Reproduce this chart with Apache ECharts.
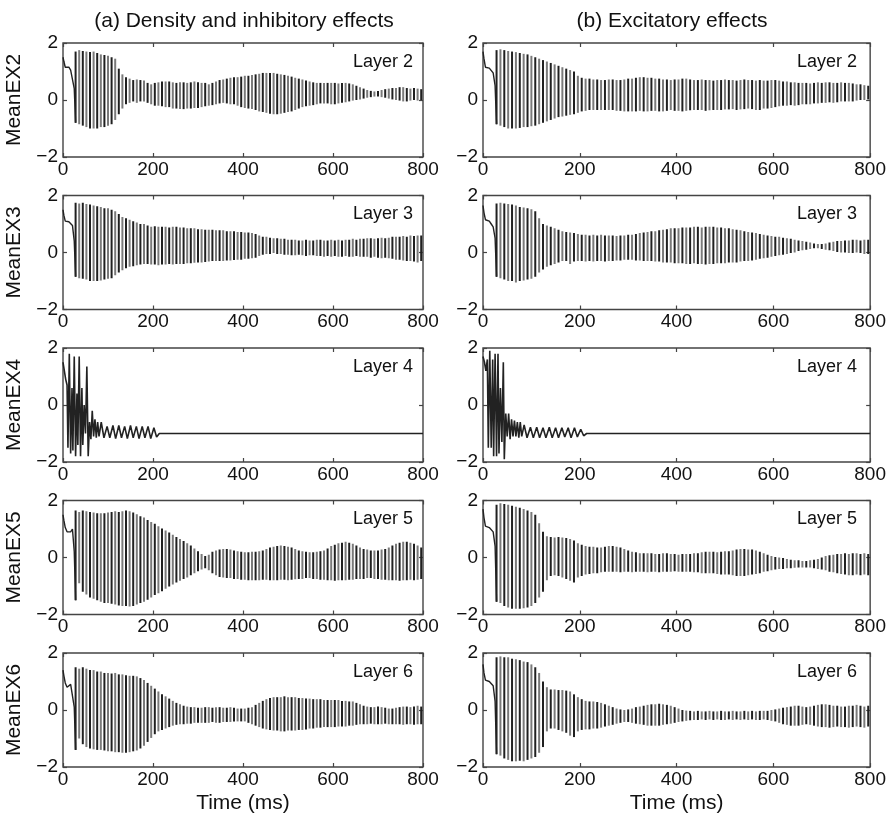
<!DOCTYPE html>
<html>
<head>
<meta charset="utf-8">
<script src="https://cdn.jsdelivr.net/npm/echarts@6/dist/echarts.min.js"></script>
<style>
html, body { margin: 0; padding: 0; background: #fff; }
#chart { width: 889px; height: 823px; }
</style>
</head>
<body>
<div id="chart"></div>
<script>
// ---- time base ----
const xTicks = [0, 200, 400, 600, 800];
const yTicks = [-2, 0, 2];
const cycleStart = 28;   // first oscillation cycle (ms)
const cycleStep = 8;     // one cycle every 8 ms

// opening transient before the oscillation starts
const headTimes = [0, 2, 5, 9, 13, 17, 21, 25];
const l2aHead = [1.5, 1.35, 1.15, 1.1, 1.15, 1.05, 1.0, 0.4];
const l2bHead = [1.7, 1.45, 1.15, 1.1, 1.12, 1.05, 0.95, 0.5];
const l3aHead = [1.5, 1.3, 1.1, 1.05, 1.08, 1.05, 0.95, 0.4];
const l3bHead = [1.65, 1.4, 1.15, 1.08, 1.1, 1.0, 0.9, 0.5];
const l5aHead = [1.5, 1.3, 1.05, 0.9, 0.95, 0.9, 1.0, 0.2];
const l5bHead = [1.7, 1.4, 1.1, 1.05, 1.05, 1.0, 0.9, 0.4];
const l6aHead = [1.4, 1.2, 0.95, 0.8, 0.85, 0.9, 0.9, 0.1];
const l6bHead = [1.6, 1.3, 1.05, 1.0, 1.0, 0.95, 0.85, 0.3];

// per-cycle peaks (Hi) and troughs (Lo)
const l2aHi = [1.7,1.75,1.72,1.7,1.68,1.7,1.65,1.6,1.58,1.55, 1.5,1.45,1.1,0.9,0.8,0.75,0.7,0.72,0.7,0.68, 0.6,0.55,0.6,0.62,0.65,0.65,0.65,0.62,0.6,0.62, 0.62,0.6,0.62,0.65,0.62,0.6,0.6,0.55,0.6,0.65, 0.7,0.72,0.75,0.78,0.8,0.8,0.82,0.85,0.85,0.88, 0.9,0.92,0.95,0.95,0.95,0.95,0.92,0.9,0.88,0.85, 0.82,0.78,0.75,0.72,0.68,0.65,0.62,0.6,0.6,0.6, 0.6,0.6,0.6,0.58,0.6,0.6,0.58,0.55,0.5,0.45, 0.4,0.35,0.32,0.3,0.32,0.35,0.38,0.4,0.42,0.42, 0.45,0.45,0.42,0.4,0.42,0.4,0.38];
const l2aLo = [-0.8,-0.85,-0.9,-0.95,-1.0,-1.0,-1.0,-0.95,-0.95,-0.9, -0.85,-0.7,-0.5,-0.3,-0.15,-0.1,-0.05,-0.1,-0.05,-0.05, -0.1,-0.15,-0.2,-0.2,-0.22,-0.25,-0.25,-0.3,-0.3,-0.32, -0.32,-0.3,-0.3,-0.28,-0.28,-0.25,-0.22,-0.2,-0.18,-0.15, -0.12,-0.1,-0.12,-0.15,-0.15,-0.2,-0.25,-0.28,-0.3,-0.32, -0.35,-0.4,-0.42,-0.45,-0.48,-0.5,-0.5,-0.48,-0.45,-0.42, -0.4,-0.35,-0.3,-0.25,-0.22,-0.2,-0.18,-0.15,-0.12,-0.12, -0.12,-0.15,-0.15,-0.12,-0.1,-0.08,-0.05,-0.02,0.0,0.02, 0.05,0.08,0.1,0.12,0.12,0.1,0.08,0.05,0.02,0.0, -0.02,-0.05,-0.05,-0.02,0.0,-0.02,0.0];

const l2bHi = [1.75,1.78,1.75,1.72,1.7,1.68,1.65,1.62,1.6,1.55, 1.5,1.45,1.4,1.35,1.3,1.25,1.2,1.15,1.1,1.05, 1.0,0.85,0.78,0.75,0.75,0.72,0.72,0.7,0.7,0.72, 0.72,0.7,0.7,0.72,0.75,0.75,0.78,0.8,0.8,0.78, 0.78,0.75,0.75,0.72,0.72,0.7,0.72,0.72,0.75,0.75, 0.72,0.7,0.7,0.72,0.7,0.7,0.68,0.7,0.7,0.72, 0.7,0.7,0.68,0.7,0.72,0.7,0.7,0.68,0.7,0.68, 0.68,0.7,0.7,0.68,0.65,0.65,0.62,0.62,0.6,0.6, 0.6,0.58,0.6,0.62,0.6,0.62,0.62,0.6,0.6,0.62, 0.6,0.6,0.58,0.55,0.55,0.52,0.5];
const l2bLo = [-0.85,-0.9,-0.95,-1.0,-1.0,-1.0,-0.98,-0.95,-0.95,-0.92, -0.9,-0.85,-0.8,-0.75,-0.7,-0.65,-0.6,-0.58,-0.55,-0.52, -0.5,-0.45,-0.4,-0.38,-0.35,-0.35,-0.35,-0.35,-0.35,-0.35, -0.35,-0.38,-0.38,-0.4,-0.4,-0.4,-0.4,-0.38,-0.4,-0.4, -0.38,-0.38,-0.4,-0.4,-0.38,-0.35,-0.38,-0.38,-0.4,-0.38, -0.36,-0.35,-0.35,-0.35,-0.38,-0.36,-0.35,-0.35,-0.35,-0.33, -0.33,-0.32,-0.35,-0.33,-0.32,-0.3,-0.32,-0.35,-0.35,-0.3, -0.3,-0.28,-0.25,-0.22,-0.2,-0.2,-0.18,-0.2,-0.18,-0.15, -0.15,-0.15,-0.12,-0.12,-0.1,-0.1,-0.08,-0.1,-0.08,-0.05, -0.05,-0.05,-0.05,-0.02,0.0,0.0,0.02];

const l3aHi = [1.75,1.72,1.75,1.7,1.68,1.65,1.62,1.6,1.55,1.55, 1.5,1.45,1.35,1.25,1.2,1.15,1.1,1.05,1.0,1.0, 0.95,0.9,0.92,0.9,0.9,0.9,0.88,0.9,0.9,0.88, 0.88,0.85,0.85,0.85,0.82,0.82,0.8,0.8,0.8,0.78, 0.78,0.78,0.75,0.75,0.75,0.72,0.72,0.7,0.7,0.68, 0.65,0.6,0.55,0.55,0.52,0.5,0.5,0.48,0.48,0.45, 0.45,0.45,0.42,0.42,0.45,0.42,0.42,0.45,0.45,0.42, 0.42,0.45,0.42,0.45,0.42,0.45,0.45,0.48,0.45,0.48, 0.48,0.5,0.5,0.48,0.5,0.52,0.5,0.52,0.55,0.55, 0.55,0.58,0.55,0.6,0.58,0.6,0.6];
const l3aLo = [-0.85,-0.9,-0.92,-0.95,-1.0,-1.0,-1.0,-0.98,-0.95,-0.92, -0.9,-0.8,-0.7,-0.62,-0.55,-0.5,-0.48,-0.45,-0.42,-0.4, -0.4,-0.42,-0.42,-0.45,-0.42,-0.42,-0.4,-0.42,-0.4,-0.4, -0.4,-0.38,-0.38,-0.36,-0.35,-0.35,-0.33,-0.32,-0.3,-0.3, -0.3,-0.3,-0.28,-0.28,-0.26,-0.25,-0.25,-0.22,-0.22,-0.2, -0.18,-0.12,-0.08,-0.05,-0.05,-0.02,-0.05,-0.05,-0.08,-0.08, -0.1,-0.1,-0.08,-0.1,-0.12,-0.1,-0.1,-0.12,-0.12,-0.15, -0.12,-0.15,-0.12,-0.15,-0.15,-0.12,-0.15,-0.15,-0.12,-0.15, -0.15,-0.15,-0.18,-0.15,-0.18,-0.2,-0.18,-0.2,-0.22,-0.25, -0.25,-0.28,-0.3,-0.3,-0.32,-0.35,-0.3];

const l3bHi = [1.72,1.75,1.72,1.7,1.68,1.65,1.6,1.58,1.55,1.52, 1.45,1.2,1.0,0.95,0.9,0.85,0.8,0.75,0.72,0.7, 0.68,0.65,0.62,0.62,0.6,0.62,0.6,0.62,0.6,0.6, 0.6,0.58,0.6,0.6,0.62,0.62,0.65,0.68,0.7,0.72, 0.75,0.75,0.78,0.8,0.82,0.85,0.85,0.85,0.88,0.88, 0.88,0.9,0.9,0.88,0.9,0.9,0.9,0.88,0.88,0.85, 0.85,0.82,0.8,0.78,0.75,0.72,0.7,0.68,0.65,0.62, 0.6,0.58,0.55,0.55,0.52,0.5,0.48,0.45,0.42,0.4, 0.38,0.35,0.32,0.3,0.3,0.32,0.35,0.38,0.4,0.4, 0.42,0.42,0.45,0.45,0.42,0.45,0.45];
const l3bLo = [-0.85,-0.9,-0.95,-1.0,-1.0,-1.05,-1.0,-0.98,-0.95,-0.92, -0.85,-0.7,-0.6,-0.5,-0.45,-0.4,-0.35,-0.3,-0.3,-0.4, -0.32,-0.3,-0.3,-0.32,-0.3,-0.32,-0.3,-0.3,-0.32,-0.3, -0.3,-0.28,-0.28,-0.25,-0.25,-0.25,-0.28,-0.28,-0.3,-0.3, -0.3,-0.32,-0.32,-0.35,-0.35,-0.35,-0.38,-0.38,-0.38,-0.4, -0.4,-0.38,-0.4,-0.4,-0.42,-0.4,-0.4,-0.38,-0.38,-0.38, -0.35,-0.35,-0.35,-0.32,-0.3,-0.3,-0.28,-0.25,-0.22,-0.2, -0.18,-0.15,-0.12,-0.1,-0.08,-0.05,-0.02,0.0,0.05,0.08, 0.1,0.12,0.15,0.15,0.12,0.1,0.08,0.05,0.02,0.0, 0.0,-0.02,-0.02,0.0,-0.02,-0.05,-0.05];

const l5aHi = [1.65,1.6,1.65,1.62,1.6,1.58,1.55,1.55,1.55,1.58, 1.6,1.62,1.6,1.62,1.65,1.62,1.58,1.52,1.45,1.4, 1.32,1.25,1.18,1.1,1.02,0.95,0.88,0.8,0.72,0.65, 0.58,0.5,0.42,0.32,0.22,0.12,0.05,0.1,0.2,0.25, 0.28,0.3,0.3,0.28,0.25,0.22,0.2,0.18,0.18,0.2, 0.2,0.22,0.25,0.3,0.35,0.38,0.4,0.42,0.4,0.38, 0.35,0.3,0.25,0.22,0.2,0.18,0.18,0.2,0.22,0.25, 0.32,0.4,0.45,0.5,0.52,0.55,0.52,0.48,0.42,0.35, 0.3,0.28,0.25,0.25,0.25,0.28,0.3,0.35,0.42,0.48, 0.52,0.55,0.55,0.52,0.48,0.42,0.35];
const l5aLo = [-1.5,-0.9,-1.2,-1.3,-1.4,-1.45,-1.5,-1.55,-1.6,-1.6, -1.62,-1.65,-1.68,-1.7,-1.7,-1.72,-1.7,-1.65,-1.6,-1.55, -1.48,-1.4,-1.32,-1.25,-1.18,-1.1,-1.02,-0.95,-0.88,-0.82, -0.75,-0.7,-0.62,-0.55,-0.48,-0.42,-0.38,-0.45,-0.55,-0.62, -0.68,-0.7,-0.72,-0.72,-0.75,-0.75,-0.78,-0.78,-0.8,-0.8, -0.8,-0.8,-0.78,-0.78,-0.8,-0.8,-0.8,-0.78,-0.78,-0.8, -0.78,-0.76,-0.75,-0.75,-0.72,-0.72,-0.75,-0.75,-0.78,-0.78, -0.8,-0.8,-0.82,-0.8,-0.8,-0.8,-0.78,-0.78,-0.75,-0.75, -0.75,-0.72,-0.72,-0.75,-0.75,-0.78,-0.78,-0.8,-0.8,-0.8, -0.82,-0.8,-0.8,-0.78,-0.8,-0.78,-0.75];

const l5bHi = [1.85,1.9,1.88,1.85,1.82,1.78,1.75,1.7,1.65,1.6, 1.5,1.2,0.9,0.75,0.72,0.7,0.72,0.7,0.68,0.65, 0.6,0.5,0.45,0.4,0.38,0.38,0.35,0.35,0.38,0.4, 0.4,0.38,0.35,0.3,0.25,0.2,0.18,0.15,0.15,0.15, 0.15,0.12,0.12,0.15,0.15,0.12,0.12,0.1,0.12,0.12, 0.12,0.15,0.15,0.18,0.2,0.2,0.2,0.18,0.2,0.22, 0.22,0.25,0.28,0.3,0.3,0.28,0.28,0.25,0.2,0.15, 0.1,0.05,0.02,0.0,-0.02,-0.05,-0.08,-0.1,-0.1,-0.12, -0.12,-0.1,-0.08,-0.05,0.0,0.05,0.08,0.1,0.12,0.12, 0.15,0.12,0.15,0.15,0.12,0.15,0.12];
const l5bLo = [-1.55,-1.6,-1.7,-1.75,-1.8,-1.8,-1.8,-1.78,-1.75,-1.7, -1.6,-1.4,-1.2,-0.8,-0.65,-0.62,-0.65,-0.7,-0.75,-0.82, -0.88,-0.7,-0.65,-0.6,-0.58,-0.55,-0.55,-0.52,-0.5,-0.5, -0.5,-0.5,-0.52,-0.5,-0.5,-0.52,-0.5,-0.5,-0.5,-0.52, -0.5,-0.5,-0.52,-0.5,-0.5,-0.5,-0.48,-0.5,-0.5,-0.5, -0.5,-0.52,-0.52,-0.55,-0.55,-0.55,-0.55,-0.58,-0.6,-0.6, -0.6,-0.62,-0.65,-0.65,-0.65,-0.62,-0.6,-0.58,-0.55,-0.5, -0.48,-0.45,-0.42,-0.4,-0.4,-0.38,-0.38,-0.36,-0.35,-0.35, -0.35,-0.35,-0.38,-0.4,-0.42,-0.45,-0.5,-0.52,-0.55,-0.58, -0.6,-0.62,-0.62,-0.6,-0.62,-0.6,-0.62];

const l6aHi = [1.5,1.45,1.5,1.45,1.4,1.4,1.35,1.35,1.3,1.3, 1.28,1.3,1.25,1.25,1.22,1.2,1.2,1.18,1.12,1.05, 0.95,0.85,0.75,0.65,0.55,0.48,0.4,0.32,0.25,0.2, 0.15,0.12,0.1,0.1,0.08,0.08,0.1,0.1,0.08,0.1, 0.1,0.08,0.08,0.1,0.08,0.05,0.05,0.05,0.08,0.1, 0.18,0.25,0.32,0.38,0.42,0.45,0.45,0.45,0.48,0.45, 0.45,0.45,0.42,0.42,0.4,0.4,0.38,0.38,0.38,0.35, 0.35,0.35,0.35,0.35,0.32,0.32,0.3,0.3,0.25,0.2, 0.15,0.12,0.1,0.1,0.12,0.1,0.08,0.05,0.05,0.08, 0.1,0.12,0.12,0.1,0.12,0.15,0.12];
const l6aLo = [-1.4,-1.0,-1.2,-1.3,-1.35,-1.38,-1.4,-1.4,-1.42,-1.45, -1.45,-1.48,-1.48,-1.5,-1.5,-1.48,-1.45,-1.42,-1.35,-1.25, -1.12,-0.98,-0.85,-0.75,-0.7,-0.65,-0.6,-0.55,-0.52,-0.5, -0.5,-0.48,-0.48,-0.45,-0.45,-0.45,-0.45,-0.45,-0.42,-0.45, -0.45,-0.42,-0.42,-0.42,-0.4,-0.4,-0.4,-0.4,-0.45,-0.5, -0.55,-0.6,-0.65,-0.68,-0.7,-0.72,-0.72,-0.75,-0.75,-0.72, -0.72,-0.72,-0.7,-0.7,-0.68,-0.65,-0.65,-0.62,-0.62,-0.6, -0.6,-0.6,-0.6,-0.58,-0.58,-0.58,-0.55,-0.55,-0.52,-0.5, -0.5,-0.5,-0.48,-0.5,-0.5,-0.5,-0.48,-0.5,-0.5,-0.5, -0.5,-0.52,-0.5,-0.5,-0.52,-0.5,-0.5];

const l6bHi = [1.85,1.88,1.85,1.85,1.8,1.78,1.75,1.7,1.68,1.6, 1.5,1.3,1.0,0.8,0.72,0.72,0.7,0.7,0.68,0.65, 0.55,0.45,0.38,0.32,0.3,0.3,0.28,0.25,0.2,0.15, 0.1,0.05,0.02,0.0,0.02,0.05,0.1,0.12,0.15,0.18, 0.2,0.2,0.22,0.2,0.18,0.15,0.1,0.05,0.0,-0.02, -0.03,-0.05,-0.03,-0.05,-0.05,-0.03,-0.05,-0.05,-0.03,-0.05, -0.05,-0.03,-0.05,-0.05,-0.03,-0.05,-0.03,-0.05,-0.03,-0.03, -0.03,0.0,0.02,0.05,0.08,0.1,0.12,0.15,0.15,0.12, 0.1,0.12,0.15,0.18,0.2,0.2,0.18,0.15,0.15,0.12, 0.12,0.15,0.15,0.18,0.15,0.12,0.15];
const l6bLo = [-1.55,-1.6,-1.7,-1.75,-1.8,-1.8,-1.78,-1.8,-1.75,-1.7, -1.65,-1.5,-1.3,-0.75,-0.65,-0.65,-0.7,-0.75,-0.8,-0.9, -0.95,-0.75,-0.7,-0.68,-0.68,-0.65,-0.65,-0.62,-0.58,-0.55, -0.52,-0.48,-0.45,-0.42,-0.42,-0.45,-0.48,-0.5,-0.52,-0.55, -0.55,-0.55,-0.55,-0.52,-0.5,-0.48,-0.45,-0.42,-0.4,-0.38, -0.36,-0.35,-0.35,-0.33,-0.35,-0.33,-0.35,-0.33,-0.35,-0.35, -0.33,-0.35,-0.33,-0.35,-0.33,-0.35,-0.33,-0.35,-0.35,-0.33, -0.35,-0.38,-0.4,-0.45,-0.5,-0.52,-0.55,-0.55,-0.55,-0.52, -0.5,-0.52,-0.55,-0.58,-0.6,-0.6,-0.62,-0.6,-0.58,-0.6, -0.6,-0.62,-0.6,-0.58,-0.6,-0.62,-0.58];

// Layer 4 settles onto a constant level, traced point by point
const l4Times = [0,3,6,9,11,14,17,20,22,25, 28,31,33,36,39,42,44,47,50,53, 56,59,62,65,68,71,74,77,80,85, 91,98,104,111,117,124,130,137,143,150, 156,163,169,176,182,189,195,202,208,214, 800];
const l4aVals = [1.5,1.2,0.9,0.7,-1.5,1.8,-1.7,0.6,-1.6,1.7, -1.8,0.4,-1.4,1.7,-1.8,0.6,-1.4,0.0,-1.0,1.35, -1.8,-0.6,-1.2,-0.2,-1.1,-0.5,-1.15,-0.6,-1.1,-0.6, -1.15,-0.75,-1.15,-0.72,-1.18,-0.72,-1.15,-0.75,-1.18,-0.72, -1.15,-0.75,-1.18,-0.75,-1.15,-0.75,-1.18,-0.8,-1.12,-1.0, -1.0];
const l4bVals = [1.7,1.5,1.2,1.6,-1.5,1.9,-1.5,1.6,-1.8,1.8, -1.8,1.8,-1.7,0.6,-1.3,1.5,-1.9,-0.3,-1.1,-0.3, -1.2,-0.5,-1.1,-0.55,-1.1,-0.6,-1.15,-0.6,-1.1,-0.7, -1.15,-0.78,-1.15,-0.78,-1.15,-0.8,-1.15,-0.78,-1.15,-0.8, -1.15,-0.8,-1.12,-0.8,-1.15,-0.8,-1.12,-0.85,-1.08,-1.0, -1.0];

const columnTitles = ['(a) Density and inhibitory effects', '(b) Excitatory effects'];
const rowNames = ['MeanEX2', 'MeanEX3', 'MeanEX4', 'MeanEX5', 'MeanEX6'];
const layerNames = ['Layer 2', 'Layer 3', 'Layer 4', 'Layer 5', 'Layer 6'];
const xName = 'Time (ms)';

// panels[row][col]
const panels = [
  [{ head: l2aHead, hi: l2aHi, lo: l2aLo }, { head: l2bHead, hi: l2bHi, lo: l2bLo }],
  [{ head: l3aHead, hi: l3aHi, lo: l3aLo }, { head: l3bHead, hi: l3bHi, lo: l3bLo }],
  [{ trace: l4aVals }, { trace: l4bVals }],
  [{ head: l5aHead, hi: l5aHi, lo: l5aLo }, { head: l5bHead, hi: l5bHi, lo: l5bLo }],
  [{ head: l6aHead, hi: l6aHi, lo: l6aLo }, { head: l6bHead, hi: l6bHi, lo: l6bLo }]
];

// ---- layout ----
const FONT = '"Liberation Sans", Arial, Helvetica, sans-serif';
const rowTop = [43, 195.5, 348, 500.5, 653];
const rowH = 114;
const colLeft = [63, 483];
const colW = [360, 388];
const FRAME = '#444';

const chart = echarts.init(document.getElementById('chart'), null, { renderer: 'canvas' });

function minusFmt(v) { return v < 0 ? '\u2212' + Math.abs(v) : String(v); }

// each oscillation cycle as a narrow stroke from trough to peak
function renderCycle(params, api) {
  const t = api.value(0);
  const top = api.coord([t, api.value(2)]);
  const bot = api.coord([t, api.value(1)]);
  const w = 2.0;
  return {
    type: 'rect',
    shape: { x: top[0] - w / 2, y: top[1], width: w, height: Math.max(1, bot[1] - top[1]) },
    style: { fill: api.value(3) ? '#7a7a7a' : '#202020' }
  };
}

const tickStyle = { inside: true, length: 4, lineStyle: { color: FRAME, width: 1.2 } };
const grid = [], xAxis = [], yAxis = [], series = [], graphic = [];
let k = 0;
for (let r = 0; r < 5; r++) {
  for (let c = 0; c < 2; c++) {
    grid.push({ left: colLeft[c], top: rowTop[r], width: colW[c], height: rowH,
      show: true, borderColor: FRAME, borderWidth: 1.4, backgroundColor: '#fff' });
    const xb = {
      type: 'value', gridIndex: k, min: 0, max: 800, interval: 200, position: 'bottom',
      axisLine: { show: false, onZero: false }, splitLine: { show: false },
      axisTick: tickStyle,
      axisLabel: { fontFamily: FONT, fontSize: 19, color: '#111', margin: 3 }
    };
    if (r === 4) {
      Object.assign(xb, { name: xName, nameLocation: 'middle', nameGap: 26,
        nameTextStyle: { fontFamily: FONT, fontSize: 21, color: '#111' } });
    }
    xAxis.push(xb);
    xAxis.push({
      type: 'value', gridIndex: k, min: 0, max: 800, interval: 200, position: 'top',
      axisLine: { show: false, onZero: false }, splitLine: { show: false }, axisLabel: { show: false },
      axisTick: tickStyle
    });
    const yl = {
      type: 'value', gridIndex: k, min: -2, max: 2, interval: 2, position: 'left',
      axisLine: { show: false, onZero: false }, splitLine: { show: false },
      axisTick: tickStyle,
      axisLabel: { fontFamily: FONT, fontSize: 19, color: '#111', margin: 5, formatter: minusFmt }
    };
    if (c === 0) {
      Object.assign(yl, { name: rowNames[r], nameLocation: 'middle', nameGap: 38,
        nameTextStyle: { fontFamily: FONT, fontSize: 21, color: '#111' } });
    }
    yAxis.push(yl);
    yAxis.push({
      type: 'value', gridIndex: k, min: -2, max: 2, interval: 2, position: 'right',
      axisLine: { show: false, onZero: false }, splitLine: { show: false }, axisLabel: { show: false },
      axisTick: tickStyle
    });

    const p = panels[r][c];
    const xi = 2 * k, yi = 2 * k;
    if (p.trace) {
      series.push({ type: 'line', xAxisIndex: xi, yAxisIndex: yi, showSymbol: false, animation: false,
        data: l4Times.map((t, i) => [t, p.trace[i]]),
        lineStyle: { color: '#222', width: 1.6 } });
    } else {
      series.push({ type: 'line', xAxisIndex: xi, yAxisIndex: yi, showSymbol: false, animation: false,
        data: headTimes.map((t, i) => [t, p.head[i]]).concat([[cycleStart, p.lo[0]]]),
        lineStyle: { color: '#222', width: 1.4 } });
      series.push({ type: 'custom', xAxisIndex: xi, yAxisIndex: yi, animation: false, clip: true,
        renderItem: renderCycle,
        data: p.hi.map((h, i) => [cycleStart + i * cycleStep, p.lo[i], h, i % 2]) });
    }

    graphic.push({ type: 'text', right: 889 - (colLeft[c] + colW[c]) + (c === 0 ? 10 : 14),
      top: rowTop[r] + 10,
      style: { text: layerNames[r], font: '18px ' + FONT, fill: '#111' } });
    k++;
  }
}

graphic.push({ type: 'text', x: 244, y: 21, style: { text: columnTitles[0], font: '21px ' + FONT, fill: '#111', textAlign: 'center', textVerticalAlign: 'middle' } });
graphic.push({ type: 'text', x: 672, y: 21, style: { text: columnTitles[1], font: '21px ' + FONT, fill: '#111', textAlign: 'center', textVerticalAlign: 'middle' } });

chart.setOption({ animation: false, backgroundColor: '#fff', grid, xAxis, yAxis, series, graphic });
</script>
</body>
</html>
